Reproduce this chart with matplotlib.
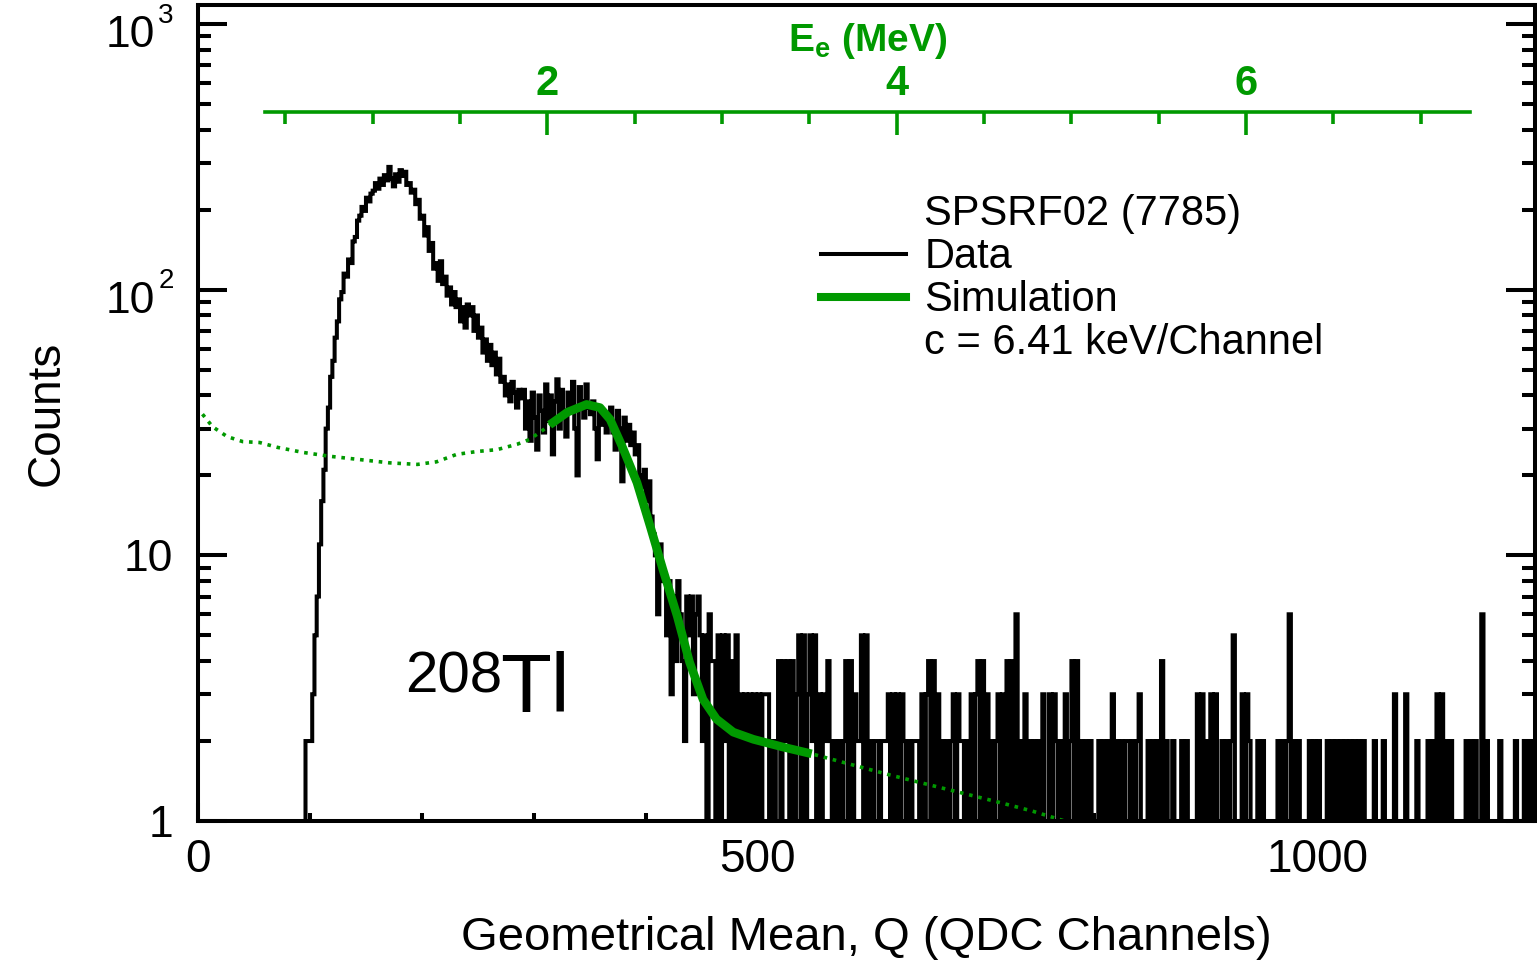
import numpy as np
import matplotlib.pyplot as plt
from matplotlib.lines import Line2D
from matplotlib.ticker import MultipleLocator, LogLocator, NullFormatter
from matplotlib.transforms import blended_transform_factory

plt.rcParams['font.family'] = ['Liberation Sans', 'DejaVu Sans']
plt.rcParams['mathtext.fontset'] = 'custom'
plt.rcParams['mathtext.rm'] = 'Liberation Sans'
plt.rcParams['mathtext.bf'] = 'Liberation Sans:bold'
plt.rcParams['mathtext.it'] = 'Liberation Sans:italic'

GREEN = '#009900'

kev_per_channel = 6.41
bin_width = 2  # channels per histogram bin

# channels 0-95: empty
empty_counts = [0] * 48

# channels 96-261 (rise and main peak)
peak_counts = [2, 2, 2, 3, 5, 7, 11, 16, 21, 30,
               36, 47, 54, 66, 76, 92, 98, 115, 112, 130,
               126, 152, 158, 182, 190, 205, 198, 222, 215, 230,
               236, 252, 240, 262, 248, 270, 258, 290, 262, 245,
               272, 255, 282, 268, 278, 248, 252, 232, 238, 210,
               218, 185, 190, 160, 172, 140, 150, 120, 126, 108,
               128, 105, 112, 95, 102, 88, 98, 86, 92, 76,
               86, 72, 88, 80, 86, 70, 80, 66, 72, 58,
               65, 54, 62]

# channels 262-459 (second bump and falling edge)
edge_counts = [52, 58, 48, 55, 45,
               47, 40, 44, 38, 45, 41, 36, 42, 39,
               42, 30, 38, 27, 41, 33, 25, 40, 35, 29,
               44, 32, 40, 24, 38, 46, 30, 42, 35, 28,
               41, 36, 45, 30, 20, 43, 38, 33, 44, 36,
               34, 38, 30, 23, 36, 31, 34, 29,
               33, 36, 29, 25, 35, 30, 19, 33, 27, 31, 26,
               29, 24, 26, 20, 18, 21,
               16, 19, 14, 12, 10, 6, 11, 8,
               8, 5, 8, 3, 7, 4, 8, 6, 4,
               2, 7, 5, 7, 3, 6, 7,
               5, 2, 5, 1, 6, 4]

# channels 460-1193, one digit per bin
tail_counts = ("41515251415" "13131303131333" "1212" "4142414" "13" "515"
               "13" "5251" "313" "242" "121212" "4141" "322" "515"
               "1212212" "22" "313" "1313" "21212221" "313" "414"
               "13121212" "313" "22" "121" "31341413" "1212" "31"
               "31414161" "2131" "2121213" "00" "313" "2121312" "4141"
               "21212" "000" "212121" "31" "21212" "21212" "31" "00"
               "212121" "41" "2" "00" "200" "0212" "0000" "313" "12"
               "1313" "00" "212" "0251" "00" "31321" "00" "212" "000000"
               "2121261212" "0000" "21212" "000" "2" "0" "212121212" "0"
               "21212" "0000" "2" "000" "2" "0000" "3" "0000" "30" "000"
               "21" "000" "212131312" "0" "2" "000000" "21212" "00" "6"
               "12" "00000" "2" "000000" "21" "00" "212" "12")

# simulation (dotted over the full range, solid in the fit range)
sim_channel = [4, 13, 26, 40, 55, 71, 94, 118, 142, 171, 196, 213, 231, 249,
               267, 285, 296, 308, 314, 330, 347, 359, 368, 379, 392, 404,
               415, 428, 439, 451, 463, 478, 496, 522, 548, 618, 687, 714,
               745, 774]
sim_counts = [34, 30.5, 28, 26.8, 26.6, 25.5, 24.4, 23.6, 23, 22.3, 22, 22.5,
              24, 24.6, 25, 26.2, 27.3, 29.6, 31, 34.6, 37, 36, 32.5, 25.6,
              18.8, 12.8, 8.9, 5.9, 3.96, 2.87, 2.42, 2.16, 2.03, 1.9, 1.79,
              1.49, 1.26, 1.18, 1.09, 1.0]
fit_range = (314, 548)

e_major = [2, 4, 6]
e_minor = [0.5, 1, 1.5, 2.5, 3, 3.5, 4.5, 5, 5.5, 6.5, 7]
e_axis_range = (0.385, 7.28)  # MeV span of the drawn energy scale

counts = np.array(empty_counts + peak_counts + edge_counts +
                  [int(c) for c in tail_counts], dtype=float)
edges = np.arange(len(counts) + 1) * bin_width

fig = plt.figure(figsize=(15.37, 9.6), dpi=100)
ax = fig.add_axes([198 / 1537, 1 - 821 / 960, 1337 / 1537, 816 / 960])

# empty bins sit below the log axis
ax.stairs(np.maximum(counts, 0.5), edges, baseline=None, color='black', lw=2.9)

sim_ch = np.array(sim_channel)
sim_y = np.array(sim_counts)
ax.plot(sim_ch, sim_y, color=GREEN, lw=2.6, ls=(0, (1, 1.6)))
fit = (sim_ch >= fit_range[0]) & (sim_ch <= fit_range[1])
ax.plot(sim_ch[fit], sim_y[fit], color=GREEN, lw=6.2,
        solid_capstyle='butt', solid_joinstyle='round')

ax.set_yscale('log')
ax.set_xlim(0, 1194)
ax.set_ylim(1, 1180)

for s in ax.spines.values():
    s.set_linewidth(2.9)

ax.set_xticks([0, 500, 1000])
ax.xaxis.set_minor_locator(MultipleLocator(100))
ax.set_yticks([1, 10, 100, 1000])
ax.yaxis.set_minor_locator(LogLocator(subs=range(2, 10)))
ax.yaxis.set_minor_formatter(NullFormatter())
ax.set_yticklabels([])
ax.tick_params(which='both', direction='in', top=False, right=True, width=2.9)
ax.tick_params(axis='y', which='major', length=21)
ax.tick_params(axis='y', which='minor', length=9.5)
ax.tick_params(axis='x', which='major', length=13)
ax.tick_params(axis='x', which='minor', length=6)
ax.tick_params(axis='x', labelsize=33, pad=12)

# decade labels with small exponents
ytr = blended_transform_factory(ax.transAxes, ax.transData)
for val, base, expo in [(1, '1', ''), (10, '10', ''), (100, '10', '2'), (1000, '10', '3')]:
    if expo:
        ax.annotate(base, (0, val), xycoords=ytr, xytext=(-31, -16.5),
                    textcoords='offset points', ha='right', va='baseline', fontsize=32)
        ax.annotate(expo, (0, val), xycoords=ytr, xytext=(-17.5, 1),
                    textcoords='offset points', ha='right', va='baseline', fontsize=20)
    else:
        ax.annotate(base, (0, val), xycoords=ytr, xytext=(-18, -11.5),
                    textcoords='offset points', ha='right', va='baseline', fontsize=32)

ax.set_xlabel('Geometrical Mean, Q (QDC Channels)', fontsize=34, va='baseline')
ax.xaxis.set_label_coords(0.5, -0.158)
ax.set_ylabel('Counts', fontsize=33, va='baseline')
ax.yaxis.set_label_coords(-0.104, 0.5)

# energy scale
e_lo, e_hi = e_axis_range
ch_lo = e_lo * 1000 / kev_per_channel
ch_hi = e_hi * 1000 / kev_per_channel
line_y = (821 - 112) / 816
eax = ax.inset_axes([ch_lo, line_y - 0.02, ch_hi - ch_lo, 0.02],
                    transform=blended_transform_factory(ax.transData, ax.transAxes))
eax.set_xlim(e_lo, e_hi)
eax.patch.set_alpha(0)
for s in ['bottom', 'left', 'right']:
    eax.spines[s].set_visible(False)
eax.spines['top'].set_color(GREEN)
eax.spines['top'].set_linewidth(2.6)
eax.yaxis.set_visible(False)
eax.xaxis.set_ticks_position('top')
eax.xaxis.set_label_position('top')
eax.set_xticks(e_major)
eax.set_xticks(e_minor, minor=True)
eax.tick_params(axis='x', which='both', direction='in', colors=GREEN, width=2.6,
                labelsize=30, pad=6)
eax.tick_params(axis='x', which='major', length=16.5)
eax.tick_params(axis='x', which='minor', length=8.5)
for lab in eax.get_xticklabels():
    lab.set_fontweight('bold')
eax.set_xlabel(r'$\mathbf{E_{e}\ (MeV)}$', fontsize=28, color=GREEN, labelpad=9)

# legend
handles = [Line2D([], [], ls='none'),
           Line2D([], [], color='black', lw=2.9),
           Line2D([], [], color=GREEN, lw=5.8),
           Line2D([], [], ls='none')]
labels = ['SPSRF02 (7785)', 'Data', 'Simulation', 'c = 6.41 keV/Channel']
ax.legend(handles, labels, loc='upper left', bbox_to_anchor=(0.4660, 0.768),
          frameon=False, fontsize=30, handlelength=2.04, handletextpad=0.44,
          labelspacing=0.07, borderpad=0, borderaxespad=0)

ax.text(0.1548, 0.158, '208', transform=ax.transAxes, fontsize=42, va='baseline')
ax.text(0.2259, 0.1336, 'Tl', transform=ax.transAxes, fontsize=60, va='baseline')

fig.savefig('out.png', dpi=100)
